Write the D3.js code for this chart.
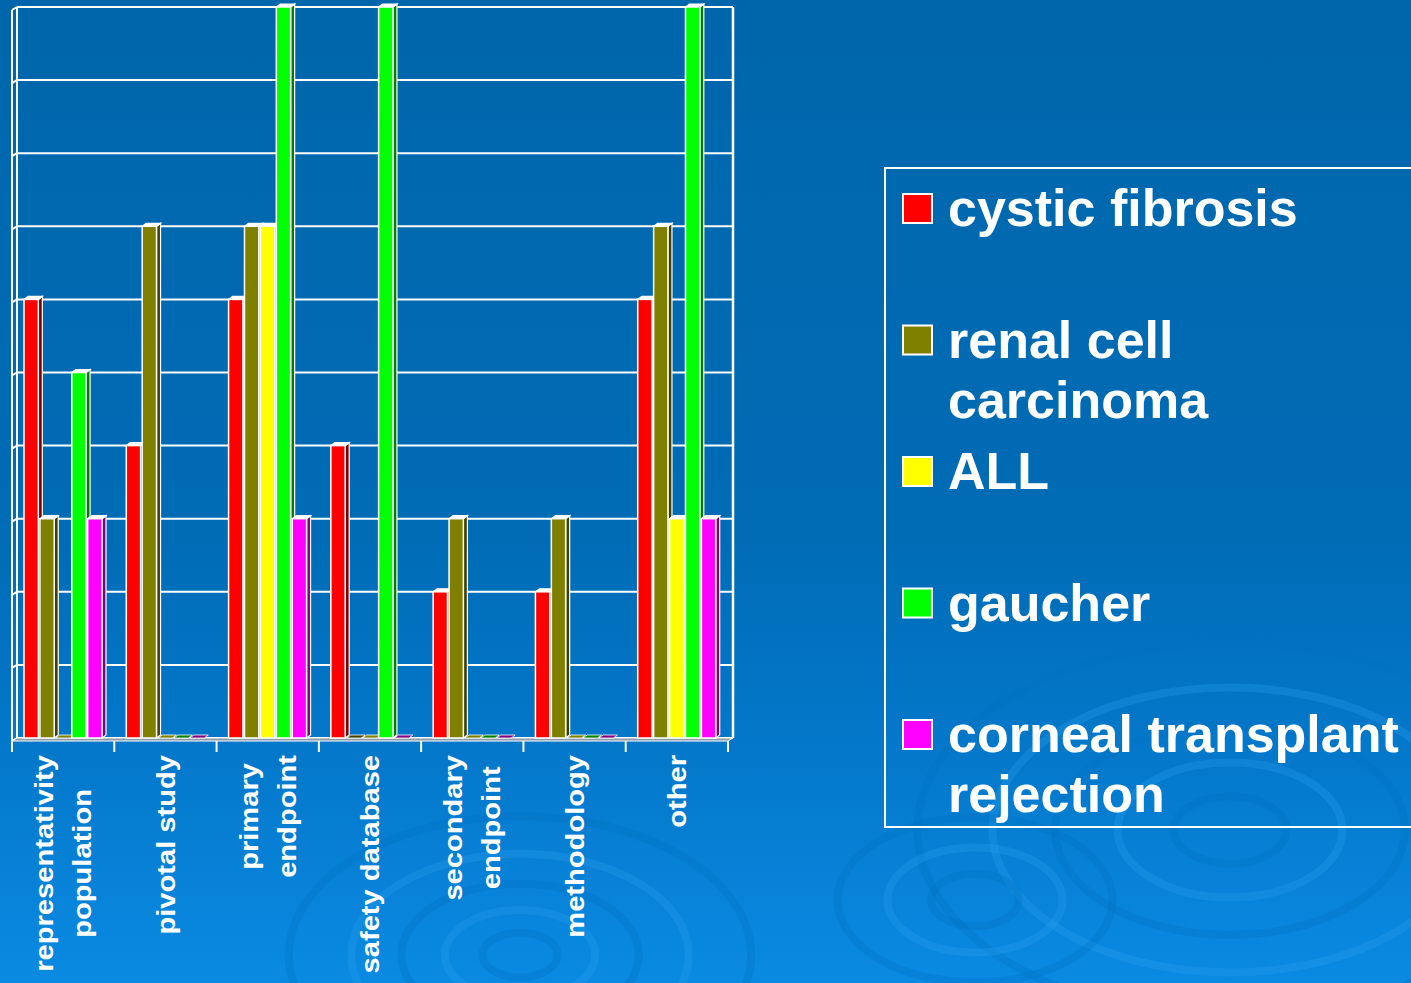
<!DOCTYPE html>
<html>
<head>
<meta charset="utf-8">
<script src="https://cdn.jsdelivr.net/npm/d3@7"></script>
<style>
  html, body { margin: 0; padding: 0; overflow: hidden; }
  body { width: 1411px; height: 983px; }
  text { font-family: "Liberation Sans", Arial, sans-serif; font-weight: bold; fill: #fff; }
</style>
</head>
<body>
<div id="chart"></div>
<script>
// data
var categories = ["representativity population", "pivotal study", "primary endpoint",
  "safety database", "secondary endpoint", "methodology", "other"];
var categoryLines = [["representativity", "population"], ["pivotal study"], ["primary", "endpoint"],
  ["safety database"], ["secondary", "endpoint"], ["methodology"], ["other"]];

var seriesNames = ["cystic fibrosis", "renal cell carcinoma", "ALL", "gaucher", "corneal transplant rejection"];
var seriesLines = [["cystic fibrosis"], ["renal cell", "carcinoma"], ["ALL"], ["gaucher"], ["corneal transplant", "rejection"]];

var cysticFibrosis = [6, 4, 6, 4, 2, 2, 6];
var renalCell      = [3, 7, 7, 0, 3, 3, 7];
var allValues      = [0, 0, 7, 0, 0, 0, 3];
var gaucher        = [5, 0, 10, 10, 0, 0, 10];
var corneal        = [3, 0, 3, 0, 0, 0, 3];

var yTicks = [0, 1, 2, 3, 4, 5, 6, 7, 8, 9, 10];

var seriesValues = [cysticFibrosis, renalCell, allValues, gaucher, corneal];
var colors = ["#ff0000", "#808000", "#ffff00", "#00ff00", "#ff00ff"];
var sideColors = ["#800000", "#404000", "#808000", "#008000", "#800080"];

var width = 1411, height = 983;

var svg = d3.select("#chart").append("svg")
  .attr("width", width)
  .attr("height", height);

// background
var defs = svg.append("defs");
var grad = defs.append("linearGradient").attr("id", "bg")
  .attr("x1", 0).attr("y1", 0).attr("x2", 0).attr("y2", 1);
grad.append("stop").attr("offset", "0%").attr("stop-color", "#0066ab");
grad.append("stop").attr("offset", "55%").attr("stop-color", "#006cb6");
grad.append("stop").attr("offset", "78%").attr("stop-color", "#0479cc");
grad.append("stop").attr("offset", "100%").attr("stop-color", "#0a8ae2");
svg.append("rect").attr("width", width).attr("height", height).attr("fill", "url(#bg)");

// faint rings in the background (wide ellipses)
var rings = [
  {cx: 1230, cy: 830, r: [45, 90, 140, 190, 250]},
  {cx: 975, cy: 900, r: [35, 70, 110]},
  {cx: 520, cy: 955, r: [30, 60, 95, 135, 185]}
];
rings.forEach(function(g) {
  g.r.forEach(function(r, i) {
    svg.append("ellipse")
      .attr("cx", g.cx).attr("cy", g.cy).attr("rx", r * 1.25).attr("ry", r * 0.75)
      .attr("fill", "none")
      .attr("stroke", i % 2 ? "#2a9ef0" : "#0070c0")
      .attr("stroke-width", 8)
      .attr("opacity", 0.3);
  });
});

// scales
var front = 12, back = 17, plotRight = 733, depthY = 3;
var yscale = d3.scaleLinear().domain([0, 10]).range([738, 7]);
var xscale = d3.scaleBand().domain(categories).range([front, 728]);
var sub = d3.scaleBand().domain(seriesNames).range([12, 90]).paddingInner(0.1);

// back wall + gridlines
var wall = svg.append("g").attr("class", "wall");
yTicks.forEach(function(t) {
  var y = yscale(t);
  wall.append("line")
    .attr("x1", back).attr("x2", plotRight).attr("y1", y).attr("y2", y)
    .attr("stroke", "#fff").attr("stroke-width", 2);
  wall.append("line")
    .attr("x1", front).attr("x2", back).attr("y1", y + depthY).attr("y2", y)
    .attr("stroke", "#fff").attr("stroke-width", 2);
});
wall.append("line").attr("x1", front).attr("x2", front)
  .attr("y1", yscale(10) + depthY).attr("y2", yscale(0) + depthY)
  .attr("stroke", "#fff").attr("stroke-width", 2);
wall.append("line").attr("x1", back).attr("x2", back)
  .attr("y1", yscale(10)).attr("y2", yscale(0))
  .attr("stroke", "#fff").attr("stroke-width", 2);
wall.append("line").attr("x1", plotRight).attr("x2", plotRight)
  .attr("y1", yscale(10)).attr("y2", yscale(0))
  .attr("stroke", "#fff").attr("stroke-width", 2.5);

// floor
svg.append("polygon")
  .attr("points", [[front, yscale(0) + depthY], [back, yscale(0)], [plotRight, yscale(0)], [728, yscale(0) + depthY]].join(" "))
  .attr("fill", "#8c9aa8").attr("stroke", "#fff").attr("stroke-width", 1);

// category ticks
var tickXs = categories.map(function(c) { return xscale(c); }).concat([xscale(categories[6]) + xscale.bandwidth()]);
svg.selectAll("line.tick").data(tickXs).enter().append("line")
  .attr("class", "tick")
  .attr("x1", function(d) { return d; }).attr("x2", function(d) { return d; })
  .attr("y1", yscale(0) + depthY).attr("y2", yscale(0) + 14)
  .attr("stroke", "#fff").attr("stroke-width", 2);

// bars
var bw = sub.bandwidth(), dx = 4, dy = 3;
var bars = svg.append("g").attr("class", "bars");
categories.forEach(function(cat, ci) {
  seriesNames.forEach(function(s, si) {
    var v = seriesValues[si][ci];
    var x = xscale(cat) + sub(s);
    var y = yscale(v), y0 = yscale(0);
    if (v > 0) {
      bars.append("polygon")
        .attr("points", [[x + bw, y], [x + bw + dx, y - dy], [x + bw + dx, y0 - dy], [x + bw, y0]].join(" "))
        .attr("fill", sideColors[si]).attr("stroke", "#fff").attr("stroke-width", 1.2);
      bars.append("polygon")
        .attr("points", [[x, y], [x + dx, y - dy], [x + bw + dx, y - dy], [x + bw, y]].join(" "))
        .attr("fill", "#fff").attr("stroke", "#fff").attr("stroke-width", 1.2);
      bars.append("rect")
        .attr("x", x).attr("y", y).attr("width", bw).attr("height", y0 - y)
        .attr("fill", colors[si]).attr("stroke", "#fff").attr("stroke-width", 1.5);
    } else {
      bars.append("polygon")
        .attr("points", [[x, y0], [x + dx, y0 - dy], [x + bw + dx, y0 - dy], [x + bw, y0]].join(" "))
        .attr("fill", sideColors[si]).attr("stroke", "#fff").attr("stroke-width", 0.8);
    }
  });
});

// category labels, rotated
var labelTop = 755, stretch = 1.12;
categoryLines.forEach(function(lines, ci) {
  var cx = xscale(categories[ci]) + xscale.bandwidth() / 2;
  var g = svg.append("g")
    .attr("transform", "translate(" + cx + ",0) rotate(-90) scale(" + stretch + ",1)");
  var texts = lines.map(function(l, li) {
    return g.append("text")
      .attr("y", (li - (lines.length - 1) / 2) * 38)
      .attr("dy", "0.35em")
      .attr("text-anchor", "middle")
      .attr("font-size", 26)
      .text(l);
  });
  var maxLen = d3.max(texts, function(t) { return t.node().getComputedTextLength(); });
  texts.forEach(function(t) {
    t.attr("x", -(labelTop + maxLen * stretch / 2) / stretch);
  });
});

// legend
svg.append("rect")
  .attr("x", 885).attr("y", 168).attr("width", 560).attr("height", 659)
  .attr("fill", "none").attr("stroke", "#fff").attr("stroke-width", 2);

var legend = svg.append("g").attr("class", "legend");
seriesLines.forEach(function(lines, si) {
  var top = 194 + si * 131.5;
  legend.append("rect")
    .attr("x", 903).attr("y", top).attr("width", 29).attr("height", 29)
    .attr("fill", colors[si]).attr("stroke", "#fff").attr("stroke-width", 2);
  lines.forEach(function(l, li) {
    legend.append("text")
      .attr("x", 948).attr("y", top + 32 + li * 60)
      .attr("font-size", 52)
      .text(l);
  });
});
</script>
</body>
</html>
